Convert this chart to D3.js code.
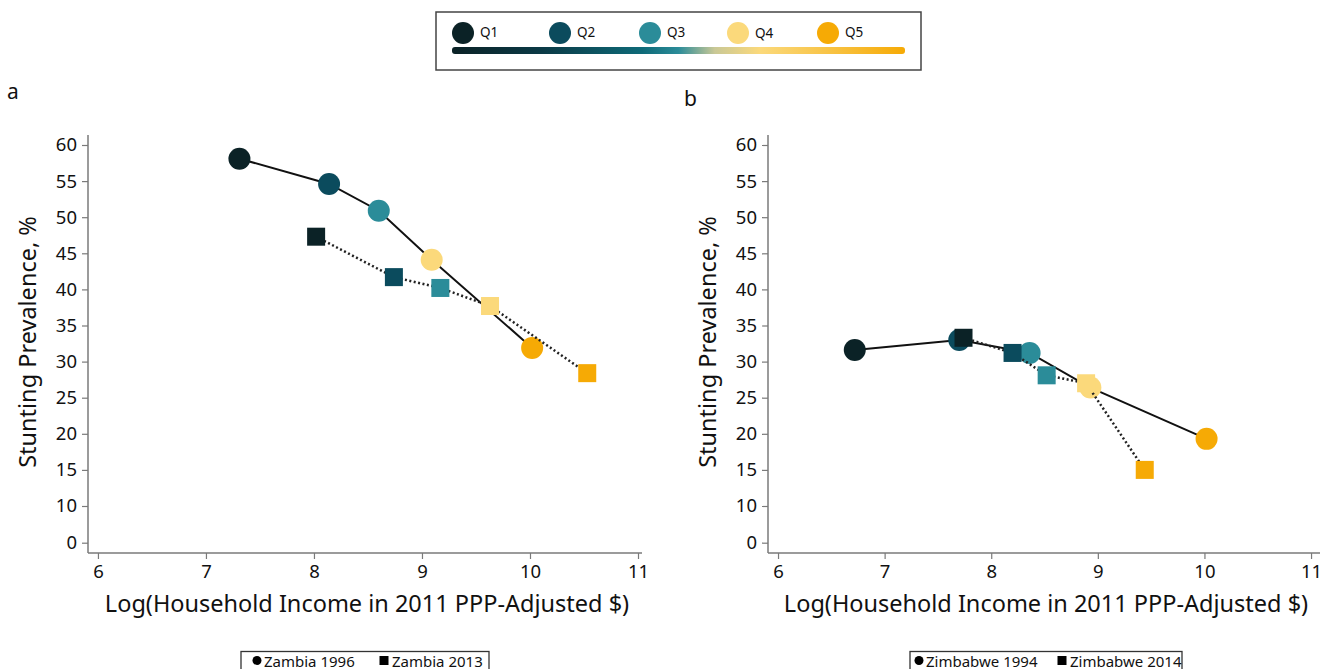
<!DOCTYPE html>
<html><head><meta charset="utf-8">
<script src="https://cdn.jsdelivr.net/npm/d3@7"></script>
<style>body{margin:0;background:#fff;} svg{display:block;font-family:"Noto Sans",sans-serif;}</style>
</head><body>
<svg id="c" width="1329" height="669"></svg>
<script>
const quintiles = ["Q1","Q2","Q3","Q4","Q5"];
const quintileColors = ["#0b2226","#0b4b5d","#2b8c99","#fbd97b","#f6aa05"];
const yTicks = [0,10,15,20,25,30,35,40,45,50,55,60];
const xTicks = [6,7,8,9,10,11];

const zambia1996X = [7.31, 8.14, 8.60, 9.09, 10.02];
const zambia1996Y = [58.1, 54.6, 50.9, 44.1, 31.9];
const zambia2013X = [8.02, 8.74, 9.17, 9.63, 10.53];
const zambia2013Y = [47.3, 41.7, 40.2, 37.7, 28.4];
const zimbabwe1994X = [6.72, 7.70, 8.36, 8.93, 10.02];
const zimbabwe1994Y = [31.6, 33.0, 31.2, 26.4, 19.3];
const zimbabwe2014X = [7.74, 8.20, 8.52, 8.89, 9.44];
const zimbabwe2014Y = [33.3, 31.2, 28.1, 27.0, 15.0];

const svg = d3.select("#c");
const axisColor = "#7a7a7a";

// top legend
const lg = svg.append("g");
lg.append("rect").attr("x",436).attr("y",12).attr("width",485).attr("height",58)
  .attr("fill","#fff").attr("stroke","#444").attr("stroke-width",1.5);
const legX = [463,560,650,738,828];
quintiles.forEach((q,i)=>{
  lg.append("circle").attr("cx",legX[i]).attr("cy",33).attr("r",11).attr("fill",quintileColors[i]);
  lg.append("text").attr("x",legX[i]+17).attr("y",i===3?38:37).attr("font-size",13.5).attr("fill","#111").text(q);
});
const defs = svg.append("defs");
const grad = defs.append("linearGradient").attr("id","qg").attr("x1","0%").attr("x2","100%");
[[0,"#0b2226"],[0.2,"#0b3a46"],[0.42,"#0e6a78"],[0.5,"#2b8c99"],[0.58,"#c9c896"],[0.68,"#fbd97b"],[0.82,"#f8c54a"],[1,"#f6aa05"]]
  .forEach(([o,c])=>grad.append("stop").attr("offset",o).attr("stop-color",c));
lg.append("rect").attr("x",452).attr("y",47).attr("width",453).attr("height",7).attr("rx",3)
  .attr("fill","url(#qg)");

function panel(opts){
  const {left,right,top,bottom,xDomain,label,labelPos,xs1,ys1,xs2,ys2,leg1,leg2,legBox} = opts;
  const g = svg.append("g");
  const x = d3.scaleLinear().domain(xDomain).range([left,right]);
  const y = d3.scaleLinear().domain([0,10,60]).range([542.7,506,145]);
  // axes
  const xAxis = g.append("g").attr("transform",`translate(0,${bottom})`)
    .call(d3.axisBottom(x).tickValues(xTicks).tickSize(6).tickSizeOuter(0).tickFormat(d3.format("d")));
  const yAxis = g.append("g").attr("transform",`translate(${left},0)`)
    .call(d3.axisLeft(y).tickValues(yTicks).tickSize(6).tickSizeOuter(0).tickFormat(d3.format("d")));
  [xAxis,yAxis].forEach(a=>{
    a.select(".domain").attr("stroke",axisColor).attr("stroke-width",1.5);
    a.selectAll(".tick line").attr("stroke",axisColor).attr("stroke-width",1.2);
    a.selectAll(".tick text").attr("font-size",18.5).attr("fill","#111").attr("font-family","Noto Sans");
  });
  xAxis.select(".domain").attr("d",`M${left},0H${right}`);
  yAxis.select(".domain").attr("d",`M0,${top}V${bottom}`);
  xAxis.selectAll(".tick text").attr("dy","0.85em");
  yAxis.selectAll(".tick text").attr("x",-11);
  // titles
  g.append("text").attr("x",(left+right)/2+2).attr("y",612).attr("text-anchor","middle")
    .attr("font-size",23.5).attr("fill","#111").text("Log(Household Income in 2011 PPP-Adjusted $)");
  g.append("text").attr("transform",`translate(${left-52},342) rotate(-90)`).attr("text-anchor","middle")
    .attr("font-size",23.5).attr("fill","#111").text("Stunting Prevalence, %");
  g.append("text").attr("x",labelPos[0]).attr("y",labelPos[1]).attr("font-size",21).attr("fill","#111").text(label);

  const d1 = xs1.map((v,i)=>({x:v,y:ys1[i],i}));
  const d2 = xs2.map((v,i)=>({x:v,y:ys2[i],i}));
  const line = d3.line().x(d=>x(d.x)).y(d=>y(d.y));
  g.append("path").datum(d1).attr("d",line).attr("fill","none").attr("stroke","#111").attr("stroke-width",2);
  g.selectAll(".c").data(d1).join("circle").attr("cx",d=>x(d.x)).attr("cy",d=>y(d.y)).attr("r",11)
    .attr("fill",d=>quintileColors[d.i]);
  g.append("path").datum(d2).attr("d",line).attr("fill","none").attr("stroke","#222").attr("stroke-width",2.5)
    .attr("stroke-dasharray","2,2.5");
  g.selectAll(".s").data(d2).join("rect").attr("x",d=>x(d.x)-9).attr("y",d=>y(d.y)-9).attr("width",18).attr("height",18)
    .attr("fill",d=>quintileColors[d.i]);

  // bottom legend
  const [bx,bw,cx,sx] = legBox;
  g.append("rect").attr("x",bx).attr("y",651.5).attr("width",bw).attr("height",30).attr("fill","#fff")
    .attr("stroke","#333").attr("stroke-width",1.3);
  g.append("circle").attr("cx",cx).attr("cy",660.5).attr("r",4.5).attr("fill","#000");
  g.append("text").attr("x",cx+7).attr("y",666.5).attr("font-size",15).attr("fill","#111").text(leg1);
  g.append("rect").attr("x",sx-4.5).attr("y",656).attr("width",9).attr("height",9).attr("fill","#000");
  g.append("text").attr("x",sx+8).attr("y",666.5).attr("font-size",15).attr("fill","#111").text(leg2);
}

panel({left:88,right:642,top:135,bottom:553,xDomain:[5.908,11.037],label:"a",labelPos:[7,99],
  xs1:zambia1996X,ys1:zambia1996Y,xs2:zambia2013X,ys2:zambia2013Y,
  leg1:"Zambia 1996",leg2:"Zambia 2013",legBox:[241,248,257,384]});
panel({left:768,right:1320,top:135,bottom:553,xDomain:[5.906,11.084],label:"b",labelPos:[684,106],
  xs1:zimbabwe1994X,ys1:zimbabwe1994Y,xs2:zimbabwe2014X,ys2:zimbabwe2014Y,
  leg1:"Zimbabwe 1994",leg2:"Zimbabwe 2014",legBox:[910,272,919,1062]});
</script>
</body></html>
